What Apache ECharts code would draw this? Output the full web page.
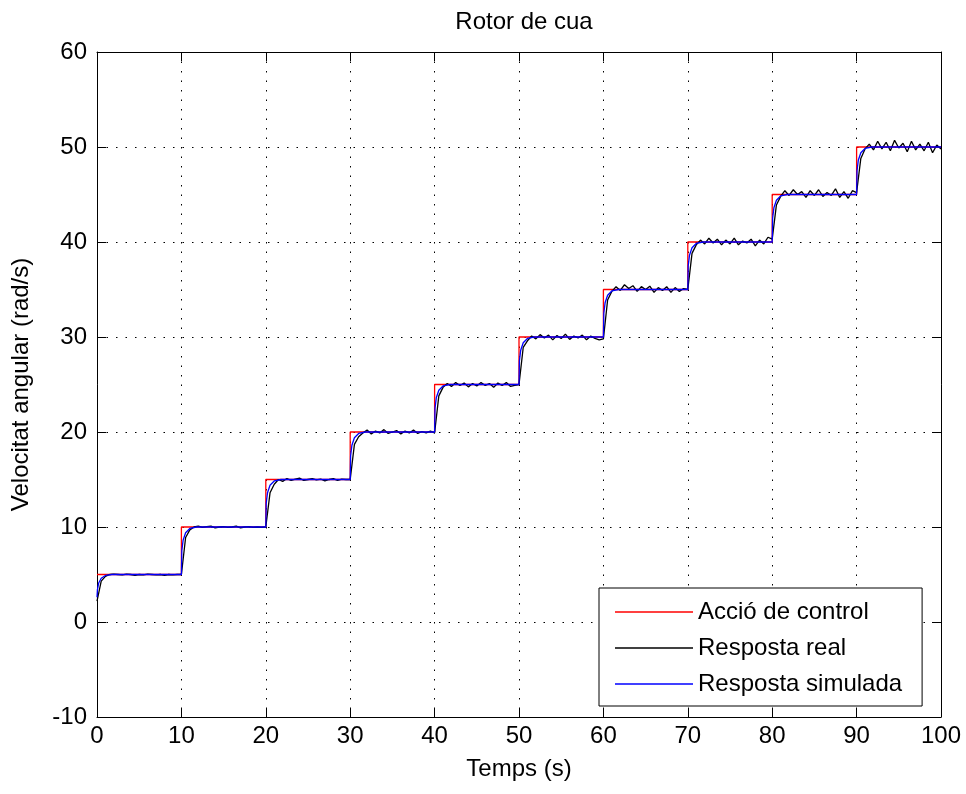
<!DOCTYPE html>
<html>
<head>
<meta charset="utf-8">
<script src="https://cdn.jsdelivr.net/npm/echarts@6/dist/echarts.min.js"></script>
<style>
    html, body { margin: 0; background: #fff; }
    #chart { width: 966px; height: 794px; }
</style>
</head>
<body>
<div id="chart"></div>
<script>
// step times and control set-points (red)
var controlT = [0, 10, 20, 30, 40, 50, 60, 70, 80, 90, 100];
var controlV = [5, 10, 15, 20, 25, 30, 35, 40, 45, 50, 50];

// simulated response (blue)
var simT = [
    0, 0.05, 0.2, 0.5, 1, 1.8,
    10, 10.05, 10.2, 10.5, 11, 11.8,
    20, 20.05, 20.2, 20.5, 21, 21.8,
    30, 30.05, 30.2, 30.5, 31, 31.8,
    40, 40.05, 40.2, 40.5, 41, 41.8,
    50, 50.05, 50.2, 50.5, 51, 51.8,
    60, 60.05, 60.2, 60.5, 61, 61.8,
    70, 70.05, 70.2, 70.5, 71, 71.8,
    80, 80.05, 80.2, 80.5, 81, 81.8,
    90, 90.05, 90.2, 90.5, 91, 91.8,
    100
];
var simV = [
    2.6, 3.4, 4.1, 4.6, 4.9, 5,
    5, 7.5, 8.6, 9.4, 9.85, 10,
    10, 12.5, 13.6, 14.4, 14.85, 15,
    15, 17.5, 18.6, 19.4, 19.85, 20,
    20, 22.5, 23.6, 24.4, 24.85, 25,
    25, 27.5, 28.6, 29.4, 29.85, 30,
    30, 32.5, 33.6, 34.4, 34.85, 35,
    35, 37.5, 38.6, 39.4, 39.85, 40,
    40, 42.5, 43.6, 44.4, 44.85, 45,
    45, 47.5, 48.6, 49.4, 49.85, 50,
    50
];

// measured response (black), one value every 0.5 s from 0 to 100 s
var realStep = 0.5;
var realV = [
    2.2, 4.3, 4.8, 5.0, 5.05, 5.0, 4.95, 5.05, 5.0, 4.9, 5.0, 4.95, 5.05, 5.0, 4.95, 5.0, 4.9, 5.0, 4.95, 5.0,
    5.0, 8.9, 9.7, 10.0, 10.1, 9.95, 10.05, 10.1, 9.9, 10.0, 10.05, 9.95, 10.0, 10.1, 9.9, 10.0, 10.05, 9.95, 10.0, 9.95,
    10.0, 13.6, 14.5, 15.0, 14.8, 15.1, 14.9, 15.05, 15.15, 14.9, 15.0, 15.1, 14.95, 15.05, 14.85, 15.0, 15.1, 14.9, 15.05, 15.0,
    15.0, 18.7, 19.5, 19.9, 20.2, 19.8, 20.1, 19.9, 20.25, 19.85, 20.0, 20.15, 19.8, 20.1, 19.9, 20.2, 19.85, 20.05, 19.9, 20.1,
    19.9, 23.8, 24.7, 25.1, 24.8, 25.2, 24.9, 25.15, 24.75, 25.1, 24.85, 25.2, 24.9, 25.1, 24.7, 25.15, 24.9, 25.2, 24.8, 24.9,
    25.0, 28.9, 29.6, 30.1, 29.8, 30.25, 29.9, 30.2, 29.7, 30.15, 29.85, 30.3, 29.75, 30.1, 29.9, 30.2, 29.7, 30.1, 29.85, 29.7,
    29.8, 33.9, 34.8, 35.3, 34.9, 35.5, 35.1, 35.4, 34.8, 35.3, 35.0, 35.35, 34.7, 35.2, 34.9, 35.3, 34.7, 35.2, 34.8, 35.1,
    35.0, 38.8, 39.7, 40.2, 39.8, 40.4, 39.9, 40.3, 39.7, 40.2, 39.8, 40.4, 39.7, 40.1, 39.9, 40.3, 39.6, 40.2, 39.8, 40.5,
    40.3, 43.9, 44.8, 45.4, 44.9, 45.5, 45.0, 45.3, 44.7, 45.4, 44.9, 45.5, 44.8, 45.2, 44.9, 45.6, 44.7, 45.3, 44.6, 45.4,
    45.2, 48.8, 49.8, 50.3, 49.7, 50.6, 49.8, 50.5, 49.6, 50.7, 49.9, 50.4, 49.5, 50.6, 49.7, 50.3, 49.6, 50.5, 49.4, 50.2,
    49.8
];

var seriesNames = ['Acció de control', 'Resposta real', 'Resposta simulada'];

var controlData = controlT.map(function (t, i) { return [t, controlV[i]]; });
var simData = simT.map(function (t, i) { return [t, simV[i]]; });
var realData = realV.map(function (v, i) { return [i * realStep, v]; });

var font = "'Liberation Sans', Arial, sans-serif";
var dotted = { color: '#000', width: 1, type: [1.5, 8] };

var myChart = echarts.init(document.getElementById('chart'));
myChart.setOption({
    animation: false,
    backgroundColor: '#fff',
    textStyle: { fontFamily: font, color: '#000' },
    title: {
        text: 'Rotor de cua',
        left: 519,
        textAlign: 'center',
        top: 5,
        textStyle: { fontFamily: font, fontSize: 24, fontWeight: 'normal', color: '#000' }
    },
    grid: { left: 97, right: 25, top: 52, bottom: 77 },
    legend: {
        orient: 'vertical',
        left: 599,
        top: 588,
        data: seriesNames,
        icon: 'rect',
        itemWidth: 78,
        itemHeight: 1.5,
        itemGap: 12,
        padding: [12, 20, 10, 16],
        borderColor: '#000',
        borderWidth: 1,
        backgroundColor: '#fff',
        textStyle: { fontFamily: font, fontSize: 24, lineHeight: 24, color: '#000' }
    },
    xAxis: [
        {
            type: 'value',
            min: 0,
            max: 100,
            interval: 10,
            name: 'Temps (s)',
            nameLocation: 'middle',
            nameGap: 40,
            nameTextStyle: { fontFamily: font, fontSize: 24, color: '#000' },
            axisLine: { onZero: false, lineStyle: { color: '#000', width: 1 } },
            axisTick: { inside: true, length: 9, lineStyle: { color: '#000' } },
            axisLabel: { fontFamily: font, fontSize: 24, color: '#000', margin: 7 },
            splitLine: { show: true, lineStyle: dotted }
        },
        {
            type: 'value',
            position: 'top',
            min: 0,
            max: 100,
            interval: 10,
            axisLine: { onZero: false, lineStyle: { color: '#000', width: 1 } },
            axisTick: { inside: true, length: 9, lineStyle: { color: '#000' } },
            axisLabel: { show: false },
            splitLine: { show: false }
        }
    ],
    yAxis: [
        {
            type: 'value',
            min: -10,
            max: 60,
            interval: 10,
            name: 'Velocitat angular (rad/s)',
            nameLocation: 'middle',
            nameGap: 64,
            nameTextStyle: { fontFamily: font, fontSize: 24, color: '#000' },
            axisLine: { onZero: false, lineStyle: { color: '#000', width: 1 } },
            axisTick: { inside: true, length: 9, lineStyle: { color: '#000' } },
            axisLabel: { fontFamily: font, fontSize: 24, color: '#000', margin: 10 },
            splitLine: { show: true, lineStyle: dotted }
        },
        {
            type: 'value',
            position: 'right',
            min: -10,
            max: 60,
            interval: 10,
            axisLine: { onZero: false, lineStyle: { color: '#000', width: 1 } },
            axisTick: { inside: true, length: 9, lineStyle: { color: '#000' } },
            axisLabel: { show: false },
            splitLine: { show: false }
        }
    ],
    series: [
        {
            name: seriesNames[0],
            type: 'line',
            step: 'end',
            symbol: 'none',
            color: '#ff0000',
            lineStyle: { color: '#ff0000', width: 1.3 },
            data: controlData
        },
        {
            name: seriesNames[1],
            type: 'line',
            symbol: 'none',
            color: '#000000',
            lineStyle: { color: '#000000', width: 1.3 },
            data: realData
        },
        {
            name: seriesNames[2],
            type: 'line',
            symbol: 'none',
            color: '#0000ff',
            lineStyle: { color: '#0000ff', width: 1.3 },
            data: simData
        }
    ]
});
</script>
</body>
</html>
